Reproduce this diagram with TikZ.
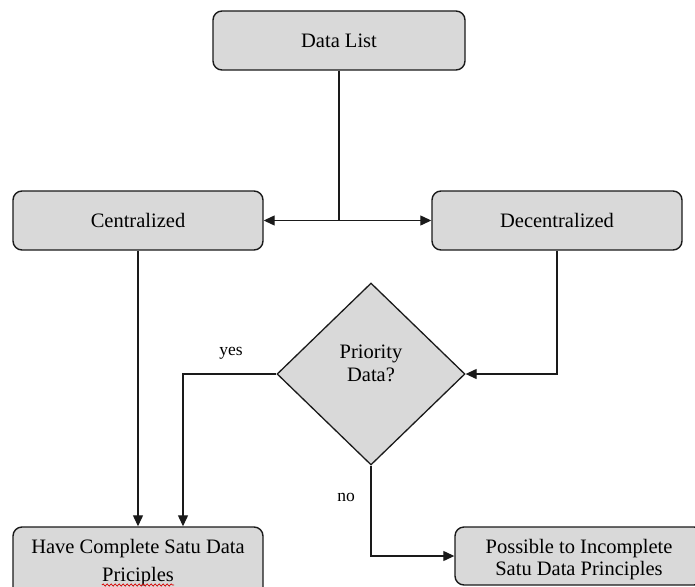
\documentclass[tikz,border=0pt]{standalone}
\usepackage{fontspec}
\setmainfont{Liberation Serif}
\usetikzlibrary{arrows.meta,shapes.geometric,decorations.pathmorphing}
\definecolor{boxgray}{HTML}{D9D9D9}
\definecolor{edgeblack}{HTML}{1A1A1A}
\tikzset{
  box/.style={draw=edgeblack, line width=1.4pt, fill=boxgray, rounded corners=9pt,
    inner sep=0pt, font=\fontsize{20.5}{24}\selectfont, align=center},
  decision/.style={diamond, draw=edgeblack, line width=1.3pt, fill=boxgray, inner sep=0pt},
  boxtext/.style={font=\fontsize{20.5}{24}\selectfont, inner sep=0pt},
  branchlabel/.style={font=\fontsize{17.5}{20}\selectfont, inner sep=0pt},
  arr/.style={draw=edgeblack, line width=1.2pt, -{Triangle[length=11pt,width=10pt]}},
  link/.style={draw=edgeblack, line width=1.2pt}
}
\begin{document}
\begin{tikzpicture}[x=1pt,y=-1pt]
  \useasboundingbox (0,0) rectangle (695,586);
  \clip (0,0) rectangle (695,586);

  % boxes
  \node[box, minimum width=252pt, minimum height=59pt] (dl) at (339,40.5) {Data List};
  \node[box, minimum width=250pt, minimum height=59pt] (cen) at (138,220.5) {Centralized};
  \node[box, minimum width=250pt, minimum height=59pt] (dec) at (557,220.5) {Decentralized};
  \node[box, minimum width=250pt, minimum height=80pt] (bl) at (138,567) {};
  \node[box, minimum width=248pt, minimum height=58pt] (br) at (579,556) {};

  % decision
  \node[decision, minimum width=188pt, minimum height=182pt] (prio) at (371,374) {};
  \node[boxtext, align=center] (priotext) at (371,363) {Priority\\[-1pt]Data?};

  % box texts set line by line
  \node[boxtext, anchor=base] (bl1) at (138,553) {Have Complete Satu Data};
  \node[boxtext, anchor=base] (bl2) at (138,581) {Priciples};
  \node[boxtext, anchor=base] (br1) at (579,553) {Possible to Incomplete};
  \node[boxtext, anchor=base] (br2) at (579,575) {Satu Data Principles};

  % spelling mark under the misspelt word
  \draw[red!85!black, line width=0.7pt,
    decorate, decoration={snake, amplitude=1.1pt, segment length=4pt}]
    ([yshift=-4pt]bl2.base west) -- ([yshift=-4pt]bl2.base east);

  % connectors
  \draw[arr] (dl.south) |- (cen.east);
  \draw[arr] (dl.south) |- (dec.west);
  \draw[arr] (cen.south) -- (bl.north);
  \draw[arr] (dec.south) |- (prio.east);
  \draw[arr] (prio.west) -| ([xshift=45pt]bl.north);
  \draw[arr] (prio.south) |- (br.west);

  % branch labels
  \node[branchlabel] (yes) at (231,353) {yes};
  \node[branchlabel] (no) at (346,497) {no};
\end{tikzpicture}
\end{document}
